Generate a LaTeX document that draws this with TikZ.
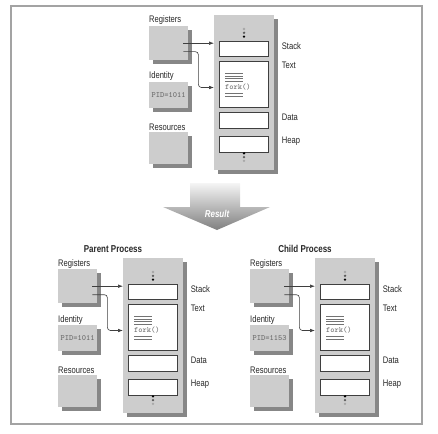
\documentclass[tikz,border=0pt]{standalone}
\usepackage{fontspec}
\setmainfont{Liberation Sans}[FakeStretch=0.8]
\usepackage{xcolor}
\usetikzlibrary{positioning, shadows, arrows.meta}
\definecolor{gris}{HTML}{CDCDCD}
\definecolor{ombre}{HTML}{878787}
\definecolor{trait}{HTML}{3F3F3F}
\definecolor{cadre}{HTML}{A3A3A3}

\begin{document}
\begin{tikzpicture}[x=1pt, y=-1pt, font=\fontsize{9.5}{11}\selectfont]
% Définition des styles
    \tikzstyle{boite} = [rectangle, fill=gris, inner sep=0pt, anchor=north west, general shadow={fill=ombre, shadow xshift=4pt, shadow yshift=-4pt}]
    \tikzstyle{colonne} = [boite, minimum width=60pt, minimum height=155pt]
    \tikzstyle{case} = [rectangle, draw=trait, fill=white, line width=0.7pt, inner sep=0pt, minimum width=49pt, anchor=north west]
    \tikzstyle{etiquette} = [anchor=base west, inner sep=0pt, text=black!85]
    \tikzstyle{code} = [font=\ttfamily\fontsize{8}{9}\selectfont, text=black!60]
    \tikzstyle{titre} = [font=\bfseries, text=black!85]
    \tikzstyle{rayure} = [draw=black!55, line width=0.7pt]
    \tikzstyle{fleche} = [draw=trait, line width=0.6pt, -{Latex[length=5pt, width=3.6pt]}]

    \useasboundingbox (0,0) rectangle (438,433);
    \draw [cadre, line width=1.2pt] (11,6) rectangle (422,424);

    % Les trois processus
    \foreach \p/\cx/\cy/\pid in {haut/214/15/1011, pere/123/258/1011, fils/315/258/1153} {
    \begin{scope}[shift={(\cx,\cy)}]
        % Mémoire du processus
        \node [colonne] (mem\p) at (0,0) {};
        \node [case, minimum height=15pt] (pile\p) at (5,26) {};
        \node [case, minimum height=46pt, below=4pt of pile\p, anchor=north] (texte\p) {};
        \node [case, minimum height=16pt, below=5pt of texte\p, anchor=north] (data\p) {};
        \node [case, minimum height=16pt, below=7pt of data\p, anchor=north] (tas\p) {};
        \node [etiquette, anchor=west] (lpile\p) at ([xshift=13pt, yshift=-5pt]pile\p.north east) {Stack};
        \node [etiquette, anchor=west] (ltexte\p) at ([xshift=13pt, yshift=-5pt]texte\p.north east) {Text};
        \node [etiquette, anchor=west] (ldata\p) at ([xshift=13pt, yshift=-5pt]data\p.north east) {Data};
        \node [etiquette, anchor=west] (ltas\p) at ([xshift=13pt, yshift=-5pt]tas\p.north east) {Heap};
        \foreach \yy/\c in {14/black!35, 17.8/black!65, 21.6/black, 138.3/black, 142.1/black!65, 145.9/black!35}
            \fill [\c] (30,\yy) circle (1.3pt);
        % Contenu du segment texte
        \foreach \ly in {58.3,61,63.7,66.3,78.3,81.3}
            \draw [rayure] (11,\ly) -- (29,\ly);
        \node [code, anchor=west, inner sep=0pt] (fork\p) at (11,72.5) {fork()};

        % Registres, identité, ressources
        \node [boite, minimum width=39pt, minimum height=34pt] (reg\p) at (-65,11) {};
        \node [boite, minimum width=39pt, minimum height=26pt, code] (ident\p) at (-65,67) {PID=\pid};
        \node [boite, minimum width=39pt, minimum height=32pt] (res\p) at (-65,117) {};
        \node [etiquette] (lreg\p) at ([yshift=3pt]reg\p.north west) {Registers};
        \node [etiquette] (lident\p) at ([yshift=3pt]ident\p.north west) {Identity};
        \node [etiquette] (lres\p) at ([yshift=2pt]res\p.north west) {Resources};

        % Connexions
        \path [fleche] ([xshift=-5pt]reg\p.east) -- (reg\p.east -| mem\p.west);
        \path [fleche, rounded corners=3pt] ([xshift=-5pt, yshift=-8.5pt]reg\p.east) -- ++(15pt,0) |- (mem\p.west |- fork\p.west);
    \end{scope}
    }

    % La flèche du résultat
    \shade [top color=black!4, bottom color=black!50] (190,183) -- (240,183) -- (240,207) -- (270,207) -- (217,230) -- (163,207) -- (190,207) -- cycle;
    \node [font=\bfseries\itshape, text=white] (resultat) at (217,214) {Result};

    % Titres
    \node [titre] (tpere) at (113,249) {Parent Process};
    \node [titre] (tfils) at (305,249) {Child Process};
\end{tikzpicture}
\end{document}
